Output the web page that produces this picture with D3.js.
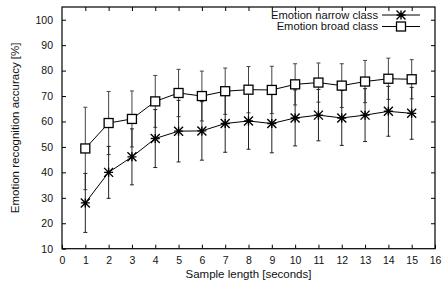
<!DOCTYPE html>
<html>
<head>
<meta charset="utf-8">
<script src="https://cdn.jsdelivr.net/npm/d3@7"></script>
<style>
  body { margin: 0; background: #fff; }
  svg text { font-family: "Liberation Sans", Arial, sans-serif; fill: #111; }
</style>
</head>
<body>
<div id="graph_container"></div>
<script>
var width  = 442;
var height = 286;

// sample length in seconds
var seconds     = [1, 2, 3, 4, 5, 6, 7, 8, 9, 10, 11, 12, 13, 14, 15];
var narrow      = [28.0, 40.0, 46.1, 53.3, 56.2, 56.3, 59.2, 60.2, 59.2, 61.4, 62.5, 61.4, 62.5, 64.0, 63.2];
var narrow_err  = [11.6, 10.2, 11.0, 11.4, 12.1, 11.5, 11.3, 11.1, 11.5, 11.0, 10.1, 10.8, 10.4, 9.8, 10.2];
var broad       = [49.4, 59.4, 61.0, 67.9, 71.2, 70.0, 71.9, 72.5, 72.4, 74.6, 75.3, 74.1, 75.7, 76.8, 76.6];
var broad_err   = [16.2, 12.4, 11.0, 10.2, 9.3, 9.8, 9.1, 9.1, 9.3, 8.1, 7.7, 8.6, 8.3, 8.1, 7.7];
var x_ticks     = d3.range(0, 17);
var y_ticks     = [10, 20, 30, 40, 50, 60, 70, 80, 90, 100];
var legend_names = ["Emotion narrow class", "Emotion broad class"];

var p_left = 62, p_right = 435, p_top = 7, p_bottom = 248.7;

var svg = d3.select("#graph_container").append("svg")
    .attr("width", width).attr("height", height);

var x = d3.scaleLinear().domain([0, 16]).range([p_left, p_right]);
var y = d3.scaleLinear().domain([10, 105]).range([p_bottom, p_top]);

// axes with inward ticks, mirrored on top/right
var tl = 4;
svg.append("g").attr("transform", "translate(0," + p_bottom + ")")
    .call(d3.axisBottom(x).tickValues(x_ticks).tickSize(-tl).tickPadding(8))
    .call(function(g) { g.select(".domain").remove(); });
svg.append("g").attr("transform", "translate(" + p_left + ",0)")
    .call(d3.axisLeft(y).tickValues(y_ticks).tickSize(-tl).tickPadding(9))
    .call(function(g) { g.select(".domain").remove(); });
svg.append("g").attr("transform", "translate(0," + p_top + ")")
    .call(d3.axisTop(x).tickValues(x_ticks.slice(1, 16)).tickSize(-tl).tickFormat(""))
    .call(function(g) { g.select(".domain").remove(); });
svg.append("g").attr("transform", "translate(" + p_right + ",0)")
    .call(d3.axisRight(y).tickValues(y_ticks.slice(1)).tickSize(-tl).tickFormat(""))
    .call(function(g) { g.select(".domain").remove(); });

svg.selectAll(".tick text").attr("font-size", 10.5).attr("fill", "#111")
    .attr("font-family", "Liberation Sans, Arial, sans-serif");
svg.selectAll(".tick line").attr("stroke", "#000");

svg.append("rect")
    .attr("x", p_left).attr("y", p_top)
    .attr("width", p_right - p_left).attr("height", p_bottom - p_top)
    .attr("fill", "none").attr("stroke", "#000").attr("stroke-width", 1.2);

// axis labels
svg.append("text")
    .attr("x", (p_left + p_right) / 2).attr("y", 278)
    .attr("text-anchor", "middle").attr("font-size", 11.5)
    .text("Sample length [seconds]");
svg.append("text")
    .attr("transform", "translate(19," + ((p_top + p_bottom) / 2) + ") rotate(-90)")
    .attr("text-anchor", "middle").attr("font-size", 11.5)
    .text("Emotion recognition accuracy [%]");

function draw_errors(vals, errs, color) {
    var g = svg.append("g").attr("stroke", color).attr("stroke-width", 1);
    seconds.forEach(function(s, i) {
        var cx = x(s);
        var y1 = y(vals[i] + errs[i]), y2 = y(vals[i] - errs[i]);
        g.append("line").attr("x1", cx).attr("x2", cx).attr("y1", y1).attr("y2", y2);
        g.append("line").attr("x1", cx - 2).attr("x2", cx + 2).attr("y1", y1).attr("y2", y1);
        g.append("line").attr("x1", cx - 2).attr("x2", cx + 2).attr("y1", y2).attr("y2", y2);
    });
}

draw_errors(broad, broad_err, "#444");
draw_errors(narrow, narrow_err, "#222");

var line = d3.line().x(function(d, i) { return x(seconds[i]); }).y(function(d) { return y(d); });

function star(g, cx, cy, r) {
    g.append("path")
        .attr("d", "M" + (cx - r) + "," + cy + "H" + (cx + r) +
                   "M" + cx + "," + (cy - r) + "V" + (cy + r) +
                   "M" + (cx - r) + "," + (cy - r) + "L" + (cx + r) + "," + (cy + r) +
                   "M" + (cx - r) + "," + (cy + r) + "L" + (cx + r) + "," + (cy - r))
        .attr("stroke", "#000").attr("stroke-width", 1.4).attr("fill", "none");
}
function square(g, cx, cy, r) {
    g.append("rect").attr("x", cx - r).attr("y", cy - r)
        .attr("width", 2 * r).attr("height", 2 * r)
        .attr("fill", "#fff").attr("stroke", "#000").attr("stroke-width", 1.3);
}

svg.append("path").datum(narrow).attr("d", line)
    .attr("fill", "none").attr("stroke", "#000").attr("stroke-width", 1);
svg.append("path").datum(broad).attr("d", line)
    .attr("fill", "none").attr("stroke", "#000").attr("stroke-width", 1);

var pts = svg.append("g");
seconds.forEach(function(s, i) {
    star(pts, x(s), y(narrow[i]), 4.5);
    square(pts, x(s), y(broad[i]), 4.5);
});

// legend
var legend_y = [15, 26.5];
var lg = svg.append("g");
legend_names.forEach(function(name, i) {
    lg.append("text")
        .attr("x", 378).attr("y", legend_y[i]).attr("dy", "0.35em")
        .attr("text-anchor", "end").attr("font-size", 11.2)
        .text(name);
    lg.append("line")
        .attr("x1", 382).attr("x2", 420).attr("y1", legend_y[i]).attr("y2", legend_y[i])
        .attr("stroke", "#000").attr("stroke-width", 1);
    if (i === 0) star(lg, 401, legend_y[i], 4.5);
    else square(lg, 401, legend_y[i], 4.5);
});
</script>
</body>
</html>
